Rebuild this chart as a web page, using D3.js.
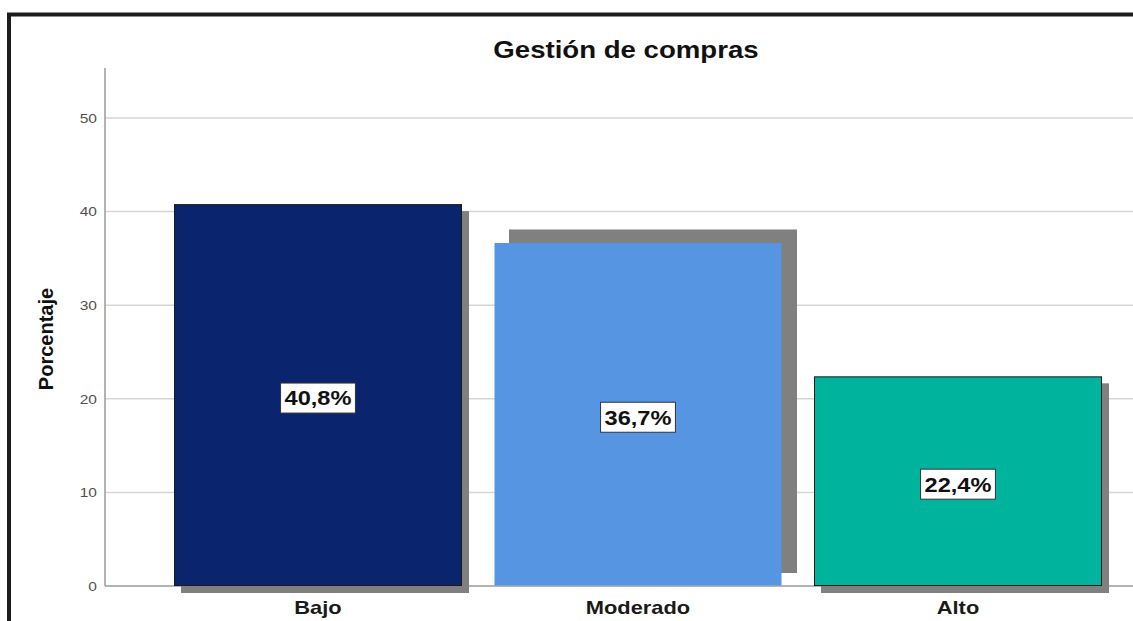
<!DOCTYPE html>
<html>
<head>
<meta charset="utf-8">
<script src="https://cdn.jsdelivr.net/npm/d3@7"></script>
<style>
  html, body { margin: 0; padding: 0; background: #fff; }
  svg { display: block; }
  text { font-family: "Liberation Sans", Arial, sans-serif; }
</style>
</head>
<body>
<svg id="chart" width="1133" height="621"></svg>
<script>
// ---- data ----
const categories = ["Bajo", "Moderado", "Alto"];
const percentages = [40.8, 36.7, 22.4];
const valueLabels = ["40,8%", "36,7%", "22,4%"];
const yTicks = [0, 10, 20, 30, 40, 50];
const titleText = "Gestión de compras";
const yAxisTitle = "Porcentaje";

// ---- styles ----
const barColors = ["#0a246e", "#5595e2", "#00b39c"];
const barStrokes = ["#1a1a1a", "none", "#1a1a1a"];
const shadowOffsets = [[7, 7], [15, -13], [7, 7]];
const stretch = 1.15;

const svg = d3.select("#chart");
const W = 1133, H = 621;

const y = d3.scaleLinear().domain([0, 50]).range([586, 118]);
const x = d3.scaleBand().domain(categories).range([105, 1171])
  .paddingInner(0.1).paddingOuter(0.2156);

function stretchText(sel, k) {
  sel.each(function () {
    const len = this.getComputedTextLength();
    d3.select(this).attr("textLength", len * k).attr("lengthAdjust", "spacingAndGlyphs");
  });
}

// frame
svg.append("rect").attr("x", 9).attr("y", 14.5).attr("width", W + 20).attr("height", H + 20)
  .attr("fill", "none").attr("stroke", "#1c1c1c").attr("stroke-width", 4);

// gridlines
svg.append("g").selectAll("line").data(yTicks.filter(d => d > 0)).join("line")
  .attr("x1", x.range()[0]).attr("x2", W)
  .attr("y1", d => y(d)).attr("y2", d => y(d))
  .attr("stroke", "#d6d6d6").attr("stroke-width", 1.5);

// y axis
const yAxis = d3.axisLeft(y).tickValues(yTicks).tickSize(0).tickPadding(8);
const gy = svg.append("g").attr("transform", `translate(${x.range()[0]},0)`).call(yAxis);
gy.select(".domain").remove();
gy.selectAll("text").attr("font-size", 13.5).attr("fill", "#505050")
  .attr("font-family", "Liberation Sans, Arial, sans-serif").call(stretchText, stretch);
svg.append("line").attr("x1", x.range()[0]).attr("x2", x.range()[0])
  .attr("y1", y(0)).attr("y2", 68).attr("stroke", "#9a9a9a").attr("stroke-width", 1.5);
svg.append("line").attr("x1", x.range()[0]).attr("x2", W)
  .attr("y1", y(0)).attr("y2", y(0)).attr("stroke", "#9a9a9a").attr("stroke-width", 1.5);

const data = categories.map((c, i) => ({ c, v: percentages[i], label: valueLabels[i], i }));

// shadows
svg.append("g").selectAll("rect").data(data).join("rect")
  .attr("x", d => x(d.c) + shadowOffsets[d.i][0])
  .attr("y", d => y(d.v) + shadowOffsets[d.i][1])
  .attr("width", x.bandwidth())
  .attr("height", d => y(0) - y(d.v))
  .attr("fill", "#808080");

// bars
svg.append("g").selectAll("rect").data(data).join("rect")
  .attr("x", d => x(d.c) + 0.5)
  .attr("y", d => y(d.v) + 0.5)
  .attr("width", x.bandwidth() - 1)
  .attr("height", d => y(0) - y(d.v) - 1)
  .attr("fill", d => barColors[d.i])
  .attr("stroke", d => barStrokes[d.i]).attr("stroke-width", 1);

// value labels
const lg = svg.append("g").selectAll("g").data(data).join("g")
  .attr("transform", d => `translate(${x(d.c) + x.bandwidth() / 2},${y(d.v / 2) + 3})`);
lg.append("text").attr("text-anchor", "middle").attr("dy", "0.36em")
  .attr("font-size", 20.5).attr("font-weight", "bold").attr("fill", "#111")
  .text(d => d.label).call(stretchText, stretch);
lg.each(function () {
  const g = d3.select(this);
  const b = g.select("text").node().getBBox();
  g.insert("rect", "text")
    .attr("x", -b.width / 2 - 4).attr("y", -15)
    .attr("width", b.width + 8).attr("height", 30)
    .attr("fill", "#fff").attr("stroke", "#333").attr("stroke-width", 1);
});

// category labels
svg.append("g").selectAll("text").data(data).join("text")
  .attr("x", d => x(d.c) + x.bandwidth() / 2).attr("y", 614)
  .attr("text-anchor", "middle").attr("font-size", 19).attr("font-weight", "bold")
  .attr("fill", "#1a1a1a").text(d => d.c).call(stretchText, stretch);

// title
svg.append("text").attr("x", 626).attr("y", 58).attr("text-anchor", "middle")
  .attr("font-size", 24).attr("font-weight", "bold").attr("fill", "#111")
  .text(titleText).call(stretchText, stretch);

// y axis title
svg.append("text").attr("transform", `translate(53,${339}) rotate(-90)`)
  .attr("text-anchor", "middle").attr("font-size", 20).attr("font-weight", "bold")
  .attr("fill", "#111").text(yAxisTitle);
</script>
</body>
</html>
